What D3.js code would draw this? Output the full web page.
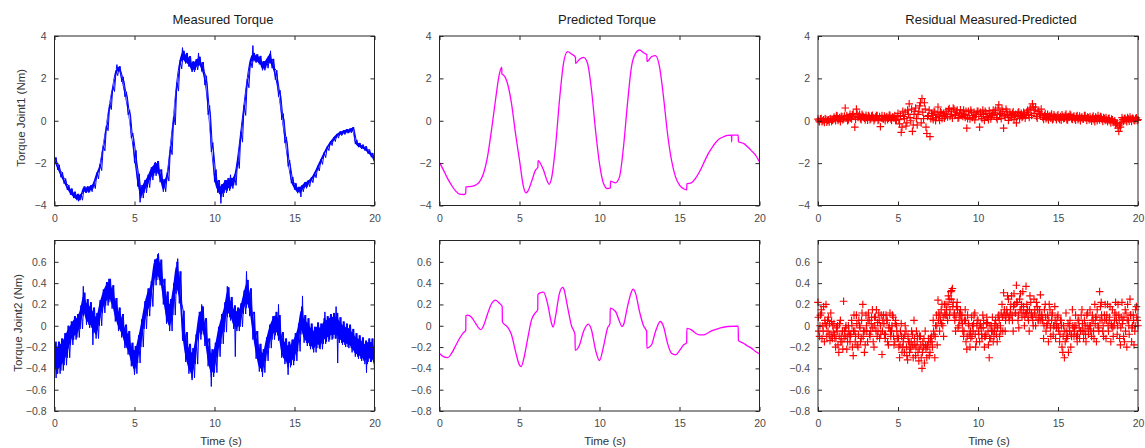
<!DOCTYPE html>
<html><head><meta charset="utf-8">
<script src="https://cdn.jsdelivr.net/npm/d3@7"></script>
<style>
body{margin:0;background:#fff;}
svg text{font-family:"Liberation Sans",Arial,Helvetica,sans-serif;}
</style></head><body>
<svg id="chart" width="1145" height="448"></svg>
<script>
// ---------------- data ----------------
const xTicks = [0, 5, 10, 15, 20];
const yTicks1 = [-4, -2, 0, 2, 4];
const yTicks2 = [-0.8, -0.6, -0.4, -0.2, 0, 0.2, 0.4, 0.6];
const titles = ["Measured Torque", "Predicted Torque", "Residual Measured-Predicted"];
const yLabels = ["Torque Joint1 (Nm)", "Torque Joint2 (Nm)"];
const xLabel = "Time (s)";

// measured torque: centre of the trace every 0.2 s, noise half-width per second
const measStep = 0.2;
const meas1 = [-1.85,-2.2,-2.55,-2.85,-3.15,-3.35,-3.5,-3.6,-3.6,-3.25,-3.25,-3.2,-3.05,-2.6,-2.2,-1.3,-0.35,0.65,1.5,2.25,
  2.45,1.95,1.25,0.4,-0.7,-1.7,-2.8,-3.35,-3.1,-2.85,-2.5,-2.3,-2.2,-2.6,-3.05,-2.65,-1.4,0.0,1.6,2.65,
  3.05,2.95,2.8,2.55,2.65,2.8,2.55,1.9,0.5,-1.25,-2.6,
  -3.1,-3.3,-3.1,-3.0,-2.95,-2.8,-2.0,-0.76,0.5,1.76,2.7,3.0,2.94,2.86,2.6,2.7,2.94,2.7,2.16,1.29,
  0.19,-0.91,-2.0,-2.8,-3.1,-3.27,-3.2,-3.04,-2.96,-2.8,-2.57,-2.25,-1.94,-1.62,-1.31,-1.07,-0.88,-0.72,-0.6,-0.55,
  -0.49,-0.47,-0.4,-1.0,-1.15,-1.23,-1.31,-1.46,-1.62,-1.9];
const measNoise1 = [0.12,0.15,0.15,0.12,0.12,0.3,0.3,0.2,0.25,0.22,0.3,0.25,0.2,0.22,0.15,0.15,0.12,0.1,0.1,0.1,0.1];
const measSpikes1 = [[1.5,-3.8],[3.9,2.65],[5.35,-3.85],[6.3,-1.95],[8.0,3.45],[9.0,3.2],[10.4,-3.9],[11.0,-2.55],[12.4,3.55],[13.5,3.3],[15.4,-3.6]];
const meas2 = [-0.3,-0.3,-0.27,-0.22,-0.15,-0.07,-0.02,0.0,0.08,0.2,0.13,0.1,0.05,0.0,0.12,0.23,0.3,0.33,0.27,0.15,
  0.06,0.0,-0.1,-0.16,-0.27,-0.32,-0.22,-0.07,0.1,0.22,0.3,0.5,0.55,0.5,0.32,0.17,0.1,0.25,0.45,0.36,
  0.0,-0.2,-0.31,-0.35,-0.22,0.0,0.05,-0.06,-0.25,-0.35,-0.3,
  -0.15,-0.03,0.08,0.22,0.16,0.08,0.06,0.1,0.22,0.3,0.22,0.0,-0.18,-0.3,-0.33,-0.22,-0.1,-0.02,0.02,-0.02,
  -0.18,-0.24,-0.27,-0.25,-0.2,-0.11,0.05,-0.03,-0.06,-0.1,-0.13,-0.09,-0.1,-0.05,-0.03,-0.01,0.0,0.0,-0.04,-0.07,
  -0.09,-0.1,-0.14,-0.18,-0.2,-0.22,-0.25,-0.23,-0.23,-0.3];
const measNoise2 = [0.15,0.11,0.12,0.11,0.11,0.13,0.12,0.15,0.14,0.13,0.14,0.11,0.13,0.11,0.12,0.13,0.12,0.12,0.11,0.11,0.11];
const measSpikes2 = [[0.1,-0.49],[1.8,0.37],[2.4,-0.18],[3.4,0.44],[5.0,-0.46],[6.5,0.68],[7.7,0.63],[8.6,-0.51],[9.2,0.2],[9.8,-0.57],[10.8,0.37],[11.3,-0.29],[12.0,0.51],[13.0,-0.48],[14.0,0.2],[14.6,-0.46],[15.5,0.28],[16.9,0.13],[17.6,0.18],[17.7,-0.35],[19.5,-0.44]];

// predicted torque (time, value); steps are given as two close samples
const predTime1 = [0,0.25,0.5,0.75,1,1.25,1.5,1.64,1.65,2,2.25,2.5,2.75,3,3.25,3.5,3.75,3.89,3.9,4,4.25,4.5,4.75,5,5.25,5.4,5.5,5.75,6,6.15,6.16,6.25,6.5,6.75,6.85,7,7.25,7.5,7.75,8,8.25,8.5,8.51,8.75,9,9.25,9.5,9.75,10,10.25,10.5,10.68,10.69,11,11.25,11.5,11.75,12,12.25,12.5,12.75,12.96,12.97,13.25,13.5,13.75,14,14.25,14.5,14.75,15,15.25,15.45,15.46,15.75,16,16.25,16.5,16.75,17,17.25,17.5,17.75,18,18.25,18.26,18.27,18.67,18.68,19,19.25,19.5,19.75,20];
const pred1 = [-1.97,-2.33,-2.72,-3.04,-3.31,-3.46,-3.48,-3.43,-3.12,-3.1,-3.04,-2.88,-2.49,-1.7,-0.44,0.98,2.24,2.53,2.2,2.16,1.76,0.82,-0.6,-1.86,-3.12,-3.4,-3.35,-2.88,-2.33,-2.2,-1.88,-1.94,-2.33,-2.88,-3.0,-2.72,-1.23,0.98,2.71,3.26,3.15,2.99,2.71,2.9,2.99,2.71,1.45,-0.44,-2.02,-2.96,-3.2,-3.17,-2.85,-2.93,-2.65,-1.23,0.82,2.55,3.18,3.34,3.21,3.12,2.8,3.02,3.07,2.55,1.13,-0.6,-1.86,-2.65,-3.04,-3.21,-3.26,-2.98,-2.93,-2.72,-2.41,-2.02,-1.62,-1.31,-1.04,-0.85,-0.76,-0.69,-0.68,-0.99,-0.68,-0.68,-0.99,-1.07,-1.23,-1.42,-1.62,-1.94];
const predTime2 = [0,0.25,0.5,0.75,1,1.25,1.5,1.64,1.65,1.75,2,2.25,2.5,2.6,2.75,3,3.25,3.5,3.75,3.92,3.93,4.25,4.5,4.75,5,5.1,5.25,5.5,5.75,6,6.14,6.15,6.25,6.5,6.75,7,7.1,7.25,7.5,7.7,7.75,8,8.25,8.47,8.48,8.75,9,9.3,9.5,9.75,10,10.25,10.5,10.66,10.67,11,11.25,11.4,11.5,11.75,12,12.1,12.25,12.5,12.75,12.95,12.96,13.25,13.5,13.8,14,14.25,14.5,14.75,15,15.25,15.45,15.46,15.75,16,16.25,16.5,16.75,17,17.5,18,18.67,18.68,19,19.25,19.5,19.75,20];
const pred2 = [-0.26,-0.29,-0.3,-0.26,-0.19,-0.12,-0.064,-0.045,0.095,0.1,0.08,0.024,-0.03,-0.036,0.0,0.11,0.206,0.24,0.21,0.18,0.035,-0.013,-0.085,-0.24,-0.37,-0.383,-0.32,-0.13,0.055,0.124,0.15,0.29,0.306,0.315,0.21,0.024,-0.013,0.087,0.306,0.36,0.353,0.18,0.0,-0.085,-0.23,-0.18,-0.054,0.015,-0.04,-0.226,-0.327,-0.195,-0.023,0.024,0.165,0.134,0.04,-0.007,0.008,0.18,0.32,0.343,0.306,0.134,0.0,-0.054,-0.21,-0.18,-0.054,0.04,-0.007,-0.164,-0.258,-0.273,-0.233,-0.18,-0.158,-0.025,-0.039,-0.07,-0.086,-0.086,-0.07,-0.048,-0.023,-0.007,-0.004,-0.14,-0.164,-0.19,-0.21,-0.242,-0.264];

// residual samples: set A at t = 0, 0.1, ... 20; set B at t = 0.05, 0.15, ...; set C (joint 2) at t = 0.025, 0.125, ...
const resStep = 0.1;
const res1 = [0.08,-0.05,0.1,0.0,-0.08,0.06,0.02,-0.06,0.1,0.03,
  0.18,0.0,0.22,0.08,-0.04,0.2,0.1,0.6,0.25,0.05,
  0.3,0.08,0.34,-0.3,0.55,0.15,0.3,0.05,0.25,0.12,
  0.26,0.03,0.2,0.1,0.26,0.0,0.18,0.24,0.06,-0.28,
  0.24,0.08,0.0,0.2,0.12,0.26,0.02,0.16,0.24,0.05,
  0.35,-0.15,-0.55,0.45,0.1,-0.25,0.5,0.8,0.0,-0.5,
  0.3,0.6,-0.2,0.45,0.85,1.05,0.1,0.55,-0.6,0.25,
  -0.75,0.35,0.05,0.4,0.15,0.65,0.02,0.38,0.25,0.12,
  0.45,0.18,0.58,0.3,0.12,0.55,0.28,0.5,0.15,0.52,
  0.35,0.5,0.15,-0.35,0.45,0.08,0.4,0.25,0.04,0.3,
  0.45,-0.3,0.2,0.5,0.02,0.35,0.15,0.48,0.08,0.3,
  0.25,0.5,0.06,0.75,0.35,0.55,-0.35,0.18,0.45,0.02,
  0.4,0.15,0.42,0.25,-0.1,0.38,0.1,0.35,0.2,0.3,
  0.25,0.5,0.15,0.6,0.8,0.35,0.65,0.12,0.45,0.28,
  0.3,0.06,0.34,0.15,0.04,0.25,0.32,0.08,0.2,0.05,
  0.28,0.06,0.03,0.2,0.12,0.32,0.04,0.16,0.26,0.06,
  0.22,0.03,0.25,0.12,0.0,0.18,0.08,0.24,0.02,0.14,
  0.2,-0.02,0.22,-0.04,0.12,0.25,0.04,0.18,-0.03,0.1,
  0.15,-0.05,0.12,-0.1,0.05,-0.08,-0.2,-0.1,-0.5,-0.3,
  0.15,-0.02,0.12,-0.04,0.08,0.18,-0.03,0.1,0.0,0.14,0.05];
const res1b = [0.0,0.09,-0.04,0.05,0.1,-0.07,0.04,0.08,-0.03,0.06,
  0.1,0.24,0.02,0.15,0.2,0.05,0.22,0.12,0.0,0.18,
  0.12,0.28,0.2,0.06,0.32,0.22,0.1,0.3,0.18,0.04,
  0.15,0.24,0.05,0.22,0.14,0.1,0.25,0.02,0.2,0.12,
  0.1,0.22,0.15,0.05,0.26,0.08,0.18,0.12,0.02,0.2,
  0.05,0.25,-0.3,0.2,0.4,-0.1,0.3,0.15,0.55,-0.2,
  0.45,0.1,0.3,0.7,-0.1,0.4,0.85,-0.3,0.2,0.5,
  0.1,0.25,0.45,0.0,0.3,0.2,0.42,0.1,0.35,0.2,
  0.3,0.52,0.2,0.45,0.6,0.25,0.4,0.12,0.35,0.25,
  0.2,0.3,0.45,0.1,0.25,0.5,0.15,0.4,0.2,0.45,
  0.2,0.4,0.1,0.3,0.45,0.2,0.05,0.35,0.25,0.5,
  0.4,0.15,0.6,0.3,0.1,0.45,0.25,0.55,0.3,0.15,
  0.25,0.35,0.05,0.3,0.2,0.42,0.25,0.15,0.4,0.12,
  0.4,0.3,0.55,0.25,0.65,0.5,0.2,0.45,0.3,0.55,
  0.15,0.25,0.1,0.3,0.2,0.12,0.05,0.28,0.15,0.22,
  0.12,0.2,0.28,0.1,0.25,0.05,0.2,0.3,0.1,0.18,
  0.1,0.2,0.05,0.22,0.15,0.08,0.25,0.12,0.18,0.05,
  0.08,0.15,0.05,0.18,0.0,0.12,0.2,0.06,0.15,0.02,
  0.05,0.1,0.0,0.08,-0.05,0.0,-0.12,-0.35,-0.2,-0.1,
  0.05,0.1,0.02,0.15,-0.02,0.08,0.12,0.03,0.1,0.02];
const res2 = [0.22,-0.1,0.15,0.0,-0.15,0.2,0.05,-0.08,0.12,-0.12,
  0.02,-0.2,-0.05,-0.25,0.05,-0.15,0.23,-0.1,-0.22,0.0,
  -0.15,0.05,-0.28,-0.05,0.1,-0.2,0.0,-0.12,0.2,-0.25,
  0.1,-0.15,0.05,-0.05,0.15,-0.2,0.08,-0.1,0.12,0.0,
  -0.27,0.1,-0.12,0.05,-0.18,0.12,-0.05,0.08,-0.15,0.0,
  -0.1,-0.3,0.02,-0.2,-0.25,-0.05,-0.32,-0.15,-0.22,-0.08,
  0.05,-0.28,-0.15,-0.33,-0.1,-0.4,-0.2,-0.05,-0.3,-0.12,
  -0.25,-0.1,0.05,-0.3,0.1,0.24,-0.05,0.15,0.0,0.2,
  0.2,0.05,0.25,0.32,0.35,0.1,-0.05,0.22,0.0,0.15,
  0.1,-0.1,0.15,-0.22,0.02,-0.2,0.08,-0.05,0.12,-0.15,
  0.05,-0.15,-0.02,0.1,-0.2,-0.08,0.03,-0.3,-0.12,0.08,
  -0.1,0.05,-0.15,0.1,0.0,0.2,0.31,-0.05,0.15,0.25,
  0.1,0.28,-0.05,0.2,0.38,0.05,0.25,0.15,0.32,0.0,
  0.37,0.15,-0.05,0.22,0.08,0.25,0.0,0.18,0.05,0.29,
  0.1,-0.12,0.2,0.0,-0.15,0.15,0.05,-0.08,0.18,-0.02,
  0.1,-0.15,0.05,-0.25,-0.3,0.12,-0.1,0.0,-0.2,0.15,
  -0.1,0.1,-0.15,0.05,-0.05,0.15,-0.12,0.0,0.1,-0.08,
  0.15,-0.1,0.05,0.2,-0.15,0.0,0.32,0.22,-0.05,0.1,
  -0.12,0.2,0.05,-0.15,0.15,0.0,0.22,-0.08,0.1,-0.18,
  0.22,-0.1,0.15,-0.2,0.05,0.25,-0.15,0.1,-0.05,0.18,0.0];
const res2b = [-0.05,0.1,-0.12,0.18,0.02,-0.1,0.08,-0.14,0.04,-0.06,
  -0.12,-0.02,-0.18,0.02,-0.1,-0.22,-0.05,0.0,-0.15,-0.08,
  -0.08,-0.2,0.1,-0.1,-0.18,0.05,-0.15,0.12,-0.05,-0.18,
  -0.05,0.12,-0.1,0.08,-0.15,0.0,0.15,-0.05,-0.12,0.1,
  0.05,-0.08,0.1,-0.15,0.0,-0.1,0.1,-0.18,0.05,-0.12,
  -0.2,-0.05,-0.25,-0.12,0.0,-0.28,-0.15,-0.2,-0.05,-0.3,
  -0.18,-0.05,-0.25,-0.1,-0.3,-0.15,-0.35,-0.22,-0.18,-0.28,
  -0.15,-0.2,-0.08,0.0,-0.18,0.12,0.05,0.2,-0.1,0.1,
  0.1,0.28,0.15,0.33,0.22,0.05,0.18,-0.02,0.12,0.05,
  -0.05,0.05,-0.15,0.1,-0.08,-0.12,0.0,0.1,-0.2,0.05,
  -0.08,0.02,-0.12,0.05,-0.1,0.08,-0.18,0.0,-0.05,-0.15,
  0.02,-0.08,0.08,-0.1,0.12,-0.05,0.15,0.1,0.28,0.05,
  0.2,0.05,0.3,0.12,0.22,-0.02,0.3,0.08,0.18,0.12,
  0.2,0.05,0.28,0.12,0.0,0.15,0.22,0.05,0.15,0.1,
  0.05,0.15,-0.05,0.1,0.2,-0.1,0.12,0.0,-0.12,0.08,
  -0.05,0.05,-0.2,0.0,-0.15,-0.05,-0.25,0.05,-0.1,-0.02,
  0.0,-0.1,0.05,-0.12,0.1,-0.05,0.05,-0.15,0.12,0.0,
  -0.05,0.1,-0.12,0.08,0.15,-0.05,0.18,0.05,-0.1,0.2,
  0.1,-0.05,0.18,0.0,-0.1,0.12,0.05,0.2,-0.12,0.08,
  0.05,-0.15,0.12,0.2,-0.08,0.1,0.0,-0.18,0.15,0.05];
const res2c = [0.08,0.0,0.12,-0.05,0.05,0.0,-0.05,0.02,-0.1,0.0,
  -0.08,-0.12,0.0,-0.1,-0.15,-0.05,-0.12,-0.02,-0.1,-0.05,
  -0.1,0.0,-0.05,-0.15,0.02,-0.08,-0.02,0.05,-0.1,-0.05,
  0.0,0.05,-0.08,0.02,-0.02,0.08,-0.05,0.03,0.05,-0.08,
  -0.05,0.02,-0.08,0.05,-0.02,-0.05,0.0,-0.1,0.02,-0.05,
  -0.12,-0.18,-0.1,-0.15,-0.08,-0.2,-0.1,-0.25,-0.15,-0.18,
  -0.12,-0.2,-0.1,-0.22,-0.18,-0.25,-0.12,-0.18,-0.2,-0.15,
  -0.12,-0.15,-0.05,-0.1,0.0,0.05,0.1,0.02,0.08,0.12,
  0.15,0.2,0.1,0.25,0.18,0.12,0.08,0.15,0.05,0.1,
  0.02,-0.05,0.05,-0.1,0.0,-0.05,-0.1,0.02,-0.08,0.0,
  -0.05,0.0,-0.08,-0.02,-0.1,0.02,-0.05,-0.12,0.0,-0.05,
  -0.05,0.0,-0.02,0.05,-0.05,0.08,0.1,0.05,0.12,0.08,
  0.15,0.1,0.18,0.12,0.22,0.1,0.15,0.2,0.12,0.08,
  0.12,0.08,0.15,0.1,0.05,0.12,0.08,0.15,0.1,0.05,
  0.05,0.0,0.08,0.02,0.05,-0.02,0.1,0.0,0.05,0.02,
  -0.02,-0.08,0.0,-0.1,-0.05,-0.12,0.02,-0.05,-0.08,0.0,
  -0.05,0.0,-0.08,-0.02,-0.05,0.02,-0.05,-0.08,0.0,-0.03,
  0.0,0.05,-0.05,0.02,0.08,-0.02,0.05,0.1,0.0,0.05,
  0.05,0.0,0.08,0.02,-0.02,0.05,0.1,0.0,0.05,-0.02,
  0.02,0.08,-0.05,0.05,0.0,0.1,-0.02,0.05,0.0,0.08];

// ---------------- layout ----------------
const colLeft = [54.5, 439.5, 818];
const colW = 320;
const rowTop = [36, 240.5];
const rowBot = [205.5, 411];
const titleX = [223, 607, 991];
const yDomains = [[-4, 4], [-0.8, 0.8]];
const yTickSets = [yTicks1, yTicks2];
const frameColor = "#262626";
const tickTextColor = "#4a4a4a";

const svg = d3.select("#chart");

const noiseAt = (noise, t) => noise[Math.min(Math.floor(t + 1e-9), noise.length - 1)];

// two interleaved traces through the read centre values, each alternating between the noise band edges
function noisyTraces(center, noise) {
  const a = [], b = [];
  const h = measStep / 2;
  center.forEach((c, i) => {
    const t = i * measStep;
    const w = noiseAt(noise, t);
    const last = i === center.length - 1;
    a.push([t, c - w]);
    if (!last) a.push([t + h, c + w]);
    b.push([Math.min(t + h / 2, 20), c + w]);
    if (!last) b.push([t + 1.5 * h, c - w]);
  });
  return [a, b];
}
function bandOf(center, noise) {
  return center.map((c, i) => {
    const t = i * measStep;
    const w = noiseAt(noise, t);
    return {t, lo: c - 0.7 * w, hi: c + 0.7 * w};
  });
}
// spikes: thin excursions from the nearest read centre value to the read spike value
function spikesOf(spikes, center) {
  return spikes.map(([t, v]) => {
    const c = center[Math.round(t / measStep)];
    return [[t - 0.04, c], [t, v], [t + 0.04, c]];
  });
}

const measData = [
  noisyTraces(meas1, measNoise1).concat(spikesOf(measSpikes1, meas1)),
  noisyTraces(meas2, measNoise2).concat(spikesOf(measSpikes2, meas2))
];
const measBand = [bandOf(meas1, measNoise1), bandOf(meas2, measNoise2)];
const predData = [predTime1.map((t, i) => [t, pred1[i]]), predTime2.map((t, i) => [t, pred2[i]])];
const resData = [
  res1.map((v, i) => [i * resStep, v]).concat(res1b.map((v, i) => [i * resStep + resStep / 2, v])),
  res2.map((v, i) => [i * resStep, v]).concat(res2b.map((v, i) => [i * resStep + resStep / 2, v]),
    res2c.map((v, i) => [i * resStep + resStep / 4, v]))
];

for (let r = 0; r < 2; r++) {
  for (let c = 0; c < 3; c++) {
    const x = d3.scaleLinear().domain([0, 20]).range([colLeft[c], colLeft[c] + colW]);
    const y = d3.scaleLinear().domain(yDomains[r]).range([rowBot[r], rowTop[r]]);
    const g = svg.append("g");

    if (c === 0) {
      g.append("path").datum(measBand[r])
        .attr("fill", "#0000ff").attr("stroke", "none")
        .attr("d", d3.area().curve(d3.curveMonotoneX).x(d => x(d.t)).y0(d => y(d.lo)).y1(d => y(d.hi)));
      g.selectAll("path.meas").data(measData[r]).join("path")
        .attr("class", "meas")
        .attr("fill", "none").attr("stroke", "#0000ff").attr("stroke-width", 1)
        .attr("stroke-linejoin", "round")
        .attr("d", d3.line().x(d => x(d[0])).y(d => y(d[1])));
    } else if (c === 1) {
      g.append("path").datum(predData[r])
        .attr("fill", "none").attr("stroke", "#ff00ff").attr("stroke-width", 1.3)
        .attr("d", d3.line().curve(d3.curveMonotoneX).x(d => x(d[0])).y(d => y(d[1])));
    } else {
      g.selectAll("path.res").data(resData[r]).join("path")
        .attr("class", "res")
        .attr("transform", d => `translate(${x(d[0])},${y(d[1])})`)
        .attr("d", "M-3.8,0H3.8M0,-3.8V3.8")
        .attr("stroke", "#ff0000").attr("stroke-width", 1.15).attr("fill", "none");
    }

    const bottom = g.append("g").attr("transform", `translate(0,${rowBot[r]})`)
      .call(d3.axisBottom(x).tickValues(xTicks).tickSize(-4).tickSizeOuter(0).tickPadding(9).tickFormat(d3.format("d")));
    const top = g.append("g").attr("transform", `translate(0,${rowTop[r]})`)
      .call(d3.axisTop(x).tickValues(xTicks).tickSize(-4).tickSizeOuter(0).tickFormat(""));
    const left = g.append("g").attr("transform", `translate(${colLeft[c]},0)`)
      .call(d3.axisLeft(y).tickValues(yTickSets[r]).tickSize(-4).tickSizeOuter(0).tickPadding(8).tickFormat(d => d3.format("")(+d.toFixed(1))));
    const right = g.append("g").attr("transform", `translate(${colLeft[c] + colW},0)`)
      .call(d3.axisRight(y).tickValues(yTickSets[r]).tickSize(-4).tickSizeOuter(0).tickFormat(""));
    [bottom, top, left, right].forEach(a => {
      a.select(".domain").remove();
      a.selectAll("line").attr("stroke", frameColor);
      a.selectAll("text").attr("fill", tickTextColor).attr("font-size", 10.5)
        .attr("font-family", '"Liberation Sans",Arial,sans-serif');
    });

    g.append("rect")
      .attr("x", colLeft[c]).attr("y", rowTop[r])
      .attr("width", colW).attr("height", rowBot[r] - rowTop[r])
      .attr("fill", "none").attr("stroke", frameColor).attr("stroke-width", 1);

    if (r === 0) {
      svg.append("text").attr("x", titleX[c]).attr("y", 24)
        .attr("text-anchor", "middle").attr("font-size", 13).attr("fill", "#1a1a1a")
        .text(titles[c]);
    } else {
      svg.append("text").attr("x", titleX[c] - 2).attr("y", 445)
        .attr("text-anchor", "middle").attr("font-size", 11.5).attr("fill", "#333")
        .text(xLabel);
    }
  }
  const yc = (rowTop[r] + rowBot[r]) / 2 - 3;
  const lx = r === 0 ? 24.5 : 22;
  svg.append("text")
    .attr("transform", `translate(${lx},${yc}) rotate(-90)`)
    .attr("text-anchor", "middle").attr("font-size", 11.5).attr("fill", "#333")
    .text(yLabels[r]);
}
</script>
</body></html>
